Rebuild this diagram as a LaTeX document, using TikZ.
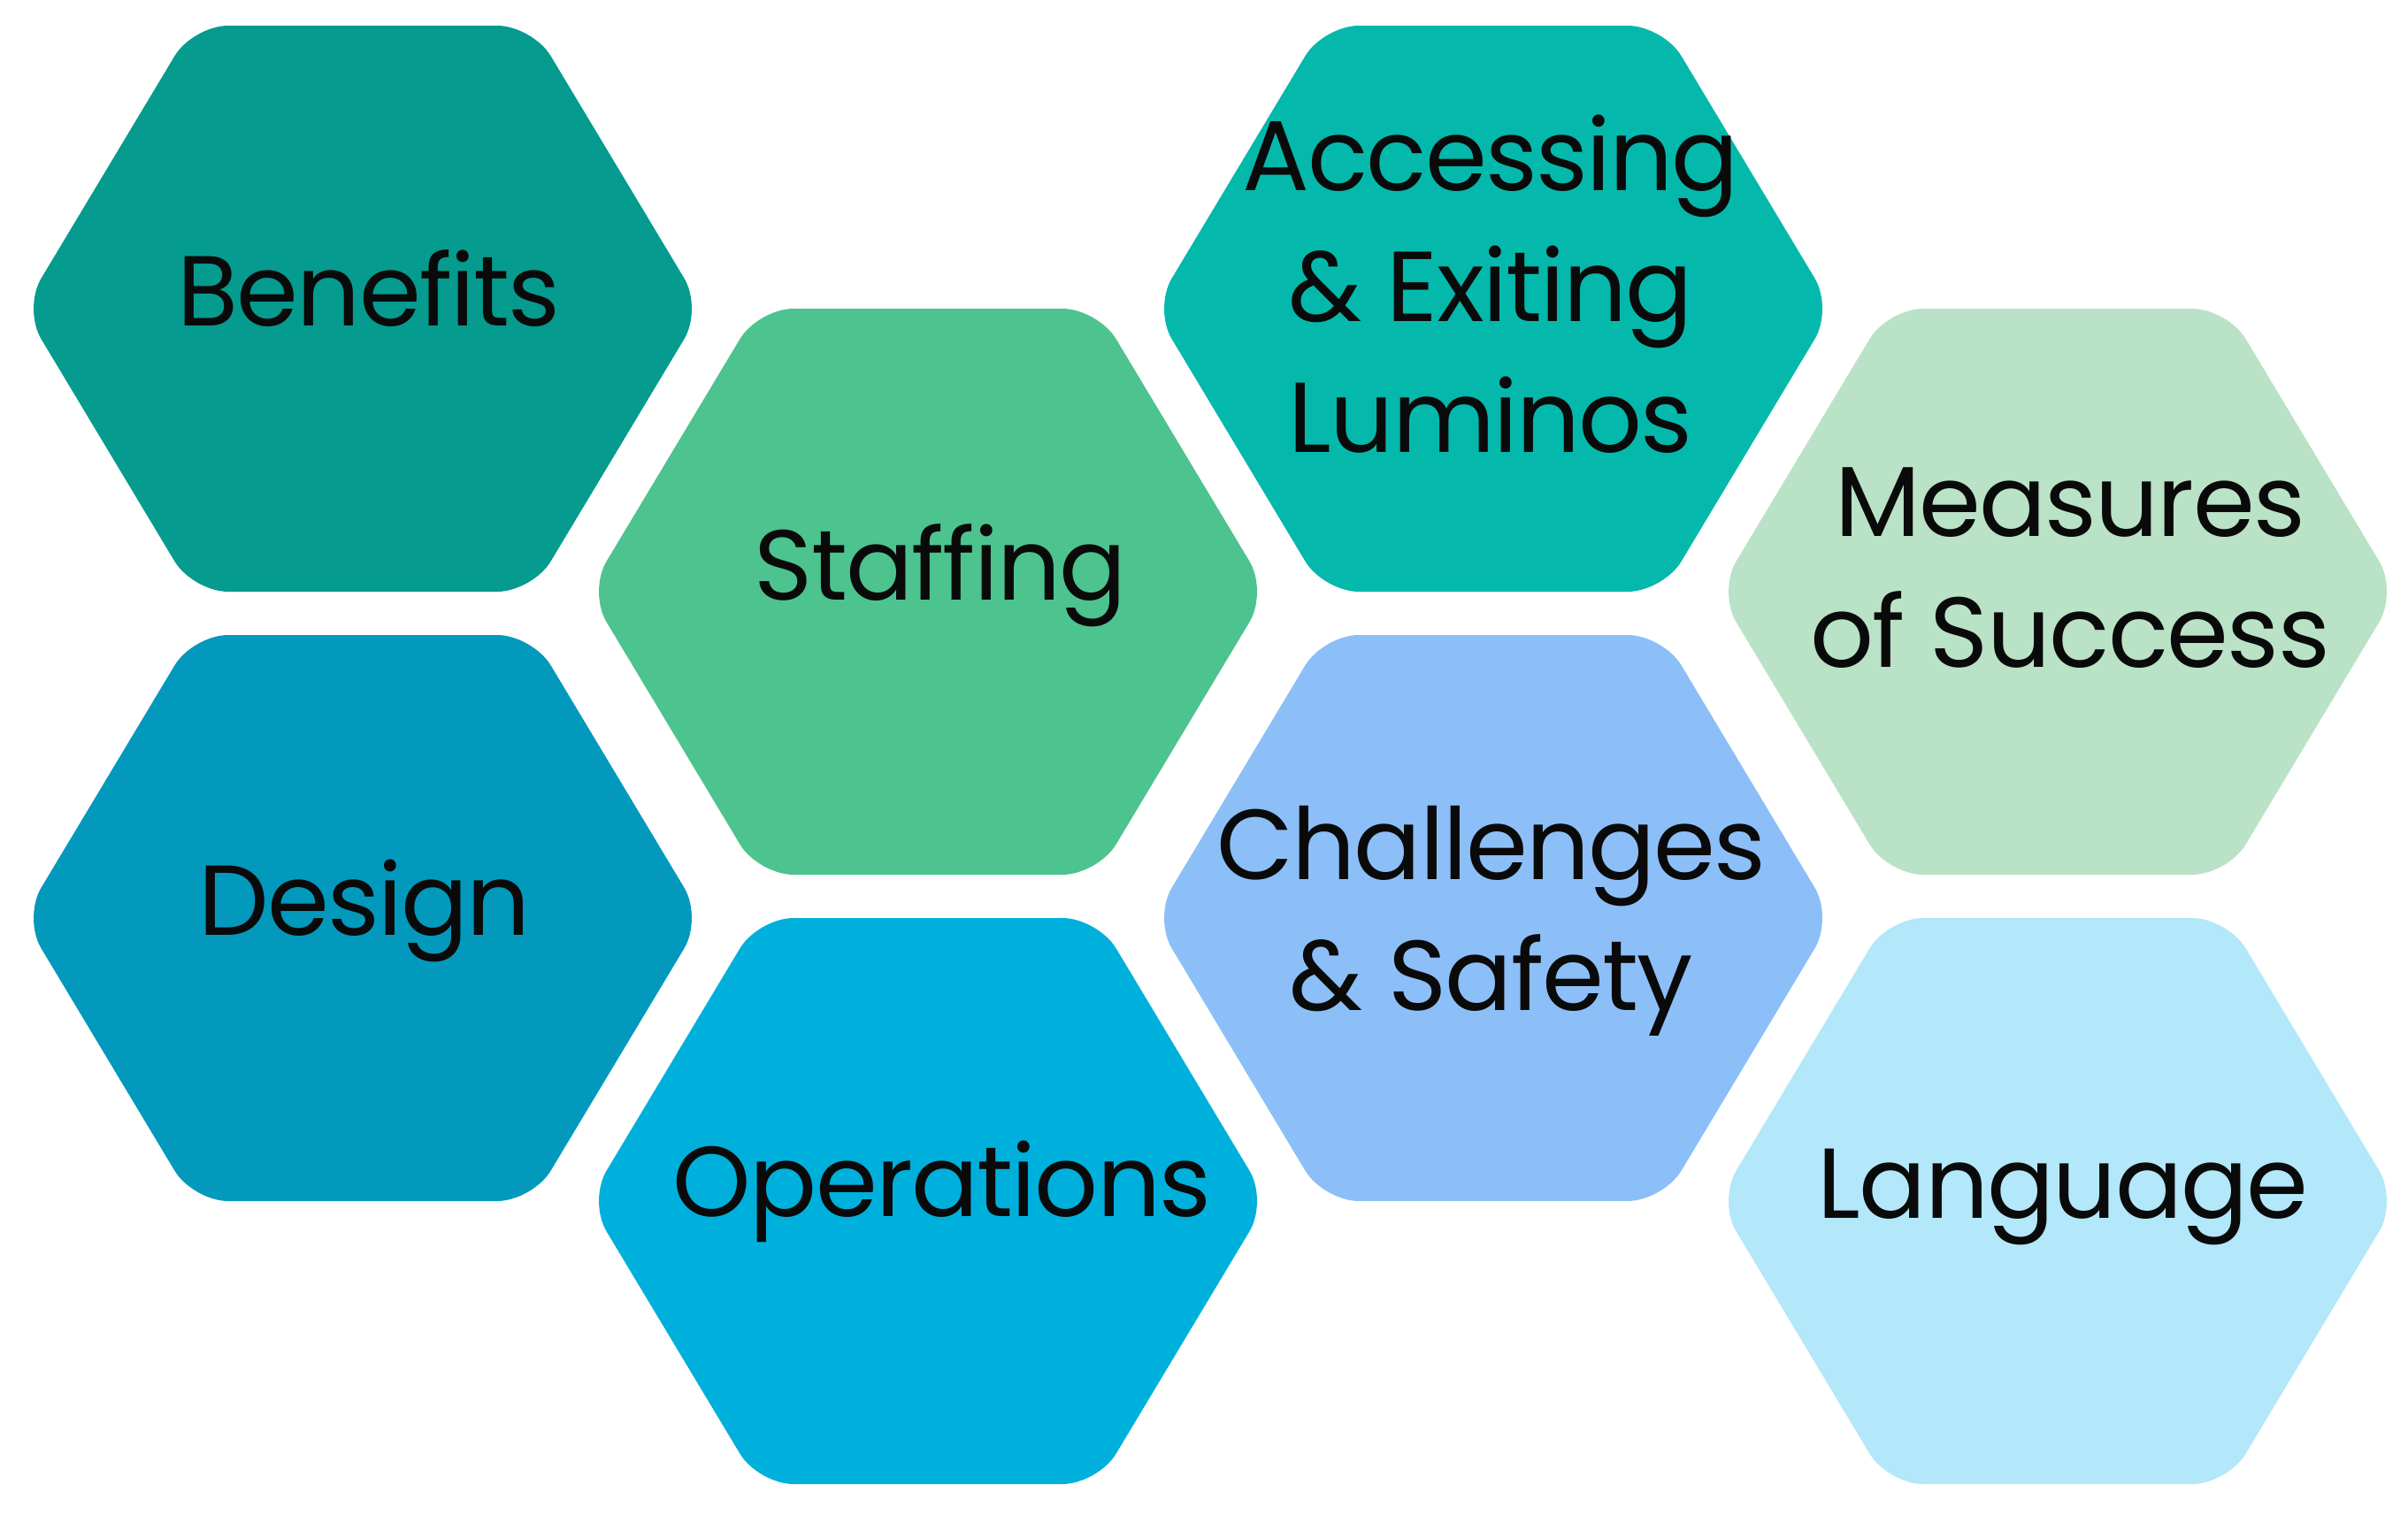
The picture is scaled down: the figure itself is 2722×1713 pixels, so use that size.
\documentclass[tikz,border=0pt]{standalone}
\usepackage{fontspec}
\setmainfont[LetterSpace=-1.5]{Poppins}
\definecolor{cBenefits}{HTML}{059B8F}
\definecolor{cStaffing}{HTML}{4DC38F}
\definecolor{cAccess}{HTML}{04B9AC}
\definecolor{cMeasures}{HTML}{B9E2C6}
\definecolor{cDesign}{HTML}{0399BD}
\definecolor{cOper}{HTML}{00B0DC}
\definecolor{cChall}{HTML}{8CBFF8}
\definecolor{cLang}{HTML}{B3E7FA}
\definecolor{ink}{HTML}{0A0A0A}
\tikzset{
  hexa/.pic={\fill[rounded corners=4mm, pic actions]
    (0,-320) -- (192,-320) -- (384,0) -- (192,320) -- (-192,320) -- (-384,0) -- (-192,-320) -- cycle;},
  hexlabel/.style={text=ink, inner sep=0pt, align=center, anchor=base,
    font=\fontsize{32}{42}\selectfont}
}
\begin{document}
\begin{tikzpicture}[x=0.1mm, y=-0.1mm]
\useasboundingbox (0,0) rectangle (2722,1713);
\fill[white] (0,0) rectangle (2722,1713);
% hexagons
\pic[fill=cBenefits] at (410,349) {hexa};
\pic[fill=cStaffing] at (1049,669) {hexa};
\pic[fill=cAccess]   at (1688,349) {hexa};
\pic[fill=cMeasures] at (2326,669) {hexa};
\pic[fill=cDesign]   at (410,1038) {hexa};
\pic[fill=cOper]     at (1049,1358) {hexa};
\pic[fill=cChall]    at (1688,1038) {hexa};
\pic[fill=cLang]     at (2326,1358) {hexa};
% labels (base anchor = baseline of the last line)
\node[hexlabel] (benefits) at (417,368) {Benefits};
\node[hexlabel] (staffing) at (1063,678) {Staffing};
\node[hexlabel] (access) at (1685,511) {Accessing\\\& Exiting\\Luminos};
\node[hexlabel] (measures) at (2340,754) {Measures\\of Success};
\node[hexlabel] (design) at (412,1057) {Design};
\node[hexlabel] (operations) at (1065,1375) {Operations};
\node[hexlabel] (challenges) at (1686,1142) {Challenges\\\& Safety};
\node[hexlabel] (language) at (2332,1377) {Language};
\end{tikzpicture}
\end{document}
